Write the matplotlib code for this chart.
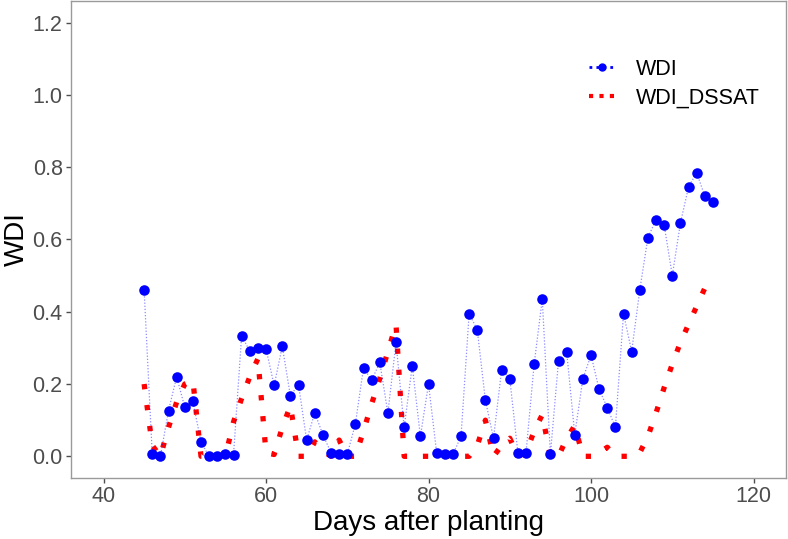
import matplotlib
matplotlib.use("Agg")
import matplotlib.pyplot as plt
from matplotlib.lines import Line2D

plt.rcParams["font.family"] = ["Liberation Sans", "DejaVu Sans"]

# Daily values, day 45 to 115
days = list(range(45, 116))

wdi = [
    0.46, 0.005, 0.0, 0.126, 0.22, 0.136, 0.152, 0.039, 0.0, 0.0,      # 45-54
    0.007, 0.003, 0.334, 0.291, 0.30, 0.298, 0.196, 0.304, 0.168, 0.198,  # 55-64
    0.045, 0.12, 0.06, 0.01, 0.005, 0.005, 0.09, 0.245, 0.21, 0.26,    # 65-74
    0.12, 0.315, 0.08, 0.25, 0.055, 0.2, 0.01, 0.005, 0.005, 0.055,    # 75-84
    0.395, 0.35, 0.155, 0.05, 0.24, 0.215, 0.01, 0.01, 0.255, 0.435,   # 85-94
    0.005, 0.265, 0.29, 0.06, 0.215, 0.28, 0.185, 0.135, 0.08, 0.395,  # 95-104
    0.29, 0.46, 0.605, 0.655, 0.64, 0.5, 0.645, 0.745, 0.785, 0.72,    # 105-114
    0.705,                                                             # 115
]

wdi_dssat = [
    0.2, 0.03, 0.0, 0.08, 0.15, 0.2, 0.21, 0.0, 0.0, 0.0,              # 45-54
    0.0, 0.095, 0.16, 0.22, 0.27, 0.01, 0.005, 0.08, 0.14, 0.0,        # 55-64
    0.0, 0.04, 0.015, 0.0, 0.045, 0.0, 0.0, 0.07, 0.145, 0.215,        # 65-74
    0.29, 0.365, 0.0, 0.0, 0.0, 0.0, 0.0, 0.0, 0.0, 0.0,               # 75-84
    0.0, 0.03, 0.1, 0.0, 0.03, 0.05, 0.0, 0.01, 0.07, 0.115,           # 85-94
    0.0, 0.0, 0.05, 0.085, 0.0, 0.0, 0.01, 0.025, 0.0, 0.0,            # 95-104
    0.0, 0.01, 0.055, 0.12, 0.19, 0.255, 0.315, 0.365, 0.415, 0.465,   # 105-114
    0.49,                                                              # 115
]

x_ticks = [40, 60, 80, 100, 120]
y_ticks = [0.0, 0.2, 0.4, 0.6, 0.8, 1.0, 1.2]

fig = plt.figure(figsize=(7.88, 5.39), dpi=100)
ax = fig.add_axes([0.0901, 0.1132, 0.9074, 0.885])

# WDI_DSSAT: thick dotted red line (square dots)
ax.plot(days, wdi_dssat, color="red", linewidth=3.8, linestyle=(0, (1.0, 3.0)),
        dash_capstyle="butt", zorder=2)

# WDI: blue points joined by a faint dotted line
ax.plot(days, wdi, color="#0000ff", alpha=0.45, linewidth=0.9, linestyle=(0, (1, 1.5)),
        zorder=3)
ax.plot(days, wdi, linestyle="none", marker="o", markersize=7.6, color="#0000ff",
        markeredgewidth=0, zorder=4)

ax.set_xlim(36, 124)
ax.set_ylim(-0.06, 1.26)
ax.set_xticks(x_ticks)
ax.set_yticks(y_ticks)
ax.set_yticklabels([f"{v:.1f}" for v in y_ticks])
ax.tick_params(colors="#4d4d4d", labelsize=15.5, length=3.5, width=1.0,
               labelcolor="#4d4d4d", pad=2.5)
for sp in ax.spines.values():
    sp.set_color("#9a9a9a")
    sp.set_linewidth(1.0)

ax.set_xlabel("Days after planting", fontsize=20, color="black", labelpad=2)
ax.set_ylabel("WDI", fontsize=20, color="black", labelpad=2)

handles = [
    Line2D([], [], color="#0000ff", marker="o", markersize=5, linestyle=(0, (1, 1.5)),
           linewidth=2.0),
    Line2D([], [], color="red", linewidth=3.0, linestyle=(0, (1, 1.5)),
           dash_capstyle="butt"),
]
ax.legend(handles, ["WDI", "WDI_DSSAT"], loc="upper left", bbox_to_anchor=(0.703, 0.91),
          frameon=False, fontsize=15.5, handlelength=1.2, handletextpad=1.0,
          labelspacing=0.35, borderpad=0.2)

fig.savefig("out.png", dpi=100)
